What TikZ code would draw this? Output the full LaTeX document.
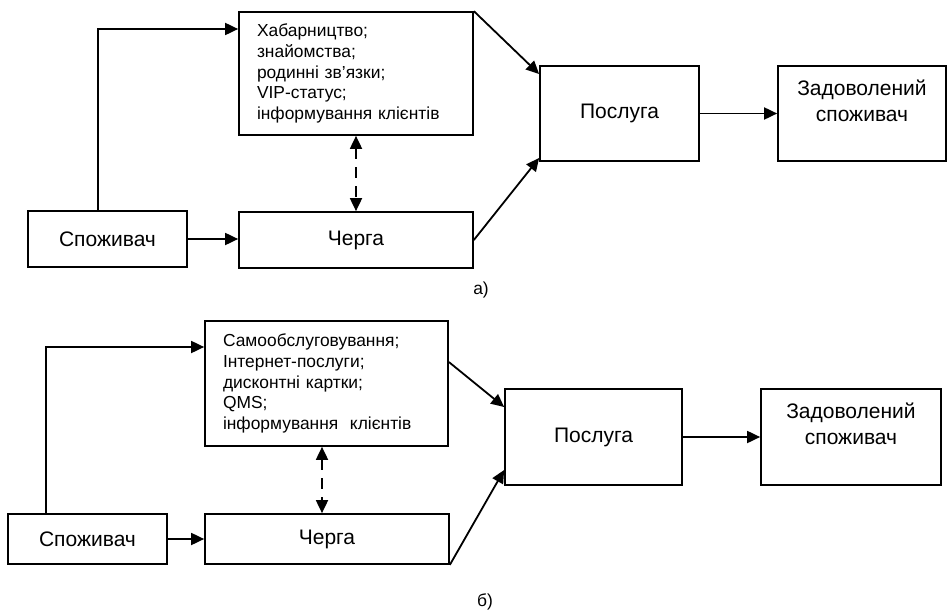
\documentclass[tikz,border=0pt]{standalone}
\usepackage{fontspec}
\setmainfont{Liberation Sans}
\usetikzlibrary{arrows.meta}

\begin{document}
\begin{tikzpicture}[x=1pt,y=-1pt,
 box/.style={draw, line width=1.7pt, font=\fontsize{21}{26}\selectfont, align=center, inner sep=0pt},
 listbox/.style={draw, line width=1.7pt, font=\fontsize{17.4}{20.6}\selectfont, align=left, inner xsep=18pt, inner ysep=0pt},
 arr/.style={line width=1.8pt, -{Triangle[length=13pt,width=12pt]}},
 dasharr/.style={line width=1.8pt, dash pattern=on 11pt off 8pt, {Triangle[length=13pt,width=12pt]}-{Triangle[length=13pt,width=12pt]}},
 sublabel/.style={font=\fontsize{17.4}{20}\selectfont}]
\useasboundingbox (0,0) rectangle (948,610);
% a)
\node[listbox, text width=198pt, minimum height=123pt] (list1) at (356,73.5) {Хабарництво;\\знайомства;\\родинні зв'язки;\\VIP-статус;\\інформування клієнтів};
\node[box, minimum width=159pt, minimum height=56pt] (cons1) at (107.5,239) {Споживач};
\node[box, minimum width=234pt, minimum height=56pt] (queue1) at (356,240) {Черга};
\node[box, minimum width=159pt, minimum height=95pt] (serv1) at (619.5,113.5) {Послуга};
\node[box, minimum width=168pt, minimum height=95pt] (sat1) at (862,113.5) {Задоволений\\споживач\\\mbox{}};
\node[sublabel] (capa) at (481,290) {а)};
\draw[arr] ([xshift=-9.5pt]cons1.north) |- ([yshift=44.5pt]list1.west);
\draw[arr] (cons1.east) -- (cons1.east -| queue1.west);
\draw[dasharr] (list1.south) -- (queue1.north);
\draw[arr] (list1.north east) -- ([yshift=39.5pt]serv1.west);
\draw[arr] (queue1.east) -- ([yshift=-44.5pt]serv1.west);
\draw[arr] (serv1.east) -- (sat1.west);
% b)
\node[listbox, text width=207pt, minimum height=125pt] (list2) at (326.5,383.5) {Самообслуговування;\\Інтернет-послуги;\\дисконтні картки;\\QMS;\\інформування\ \ клієнтів};
\node[box, minimum width=159pt, minimum height=50pt] (cons2) at (87.5,539) {Споживач};
\node[box, minimum width=244pt, minimum height=50pt] (queue2) at (327,539) {Черга};
\node[box, minimum width=177pt, minimum height=96pt] (serv2) at (593.5,437) {Послуга};
\node[box, minimum width=180pt, minimum height=96pt] (sat2) at (851,437) {Задоволений\\споживач\\\mbox{}};
\node[sublabel] (capb) at (485,602) {б)};
\draw[arr] ([xshift=-41.5pt]cons2.north) |- ([yshift=36.5pt]list2.west);
\draw[arr] (cons2.east) -- (cons2.east -| queue2.west);
\draw[dasharr] ([xshift=-4.5pt]list2.south) -- ([xshift=-5pt]queue2.north);
\draw[arr] ([yshift=21.5pt]list2.east) -- ([yshift=30pt]serv2.west);
\draw[arr] (queue2.south east) -- ([yshift=-33pt]serv2.west);
\draw[arr] (serv2.east) -- (sat2.west);
\end{tikzpicture}
\end{document}
